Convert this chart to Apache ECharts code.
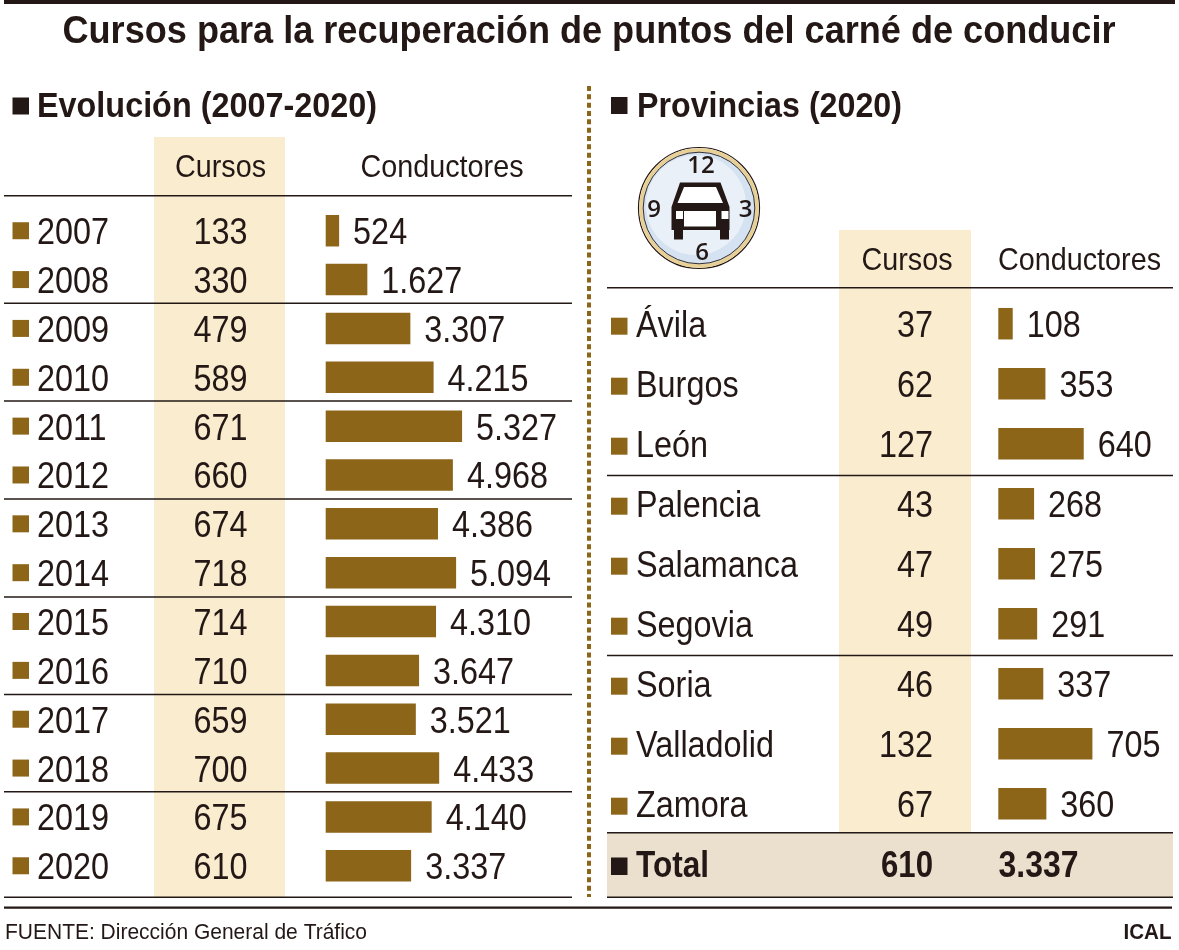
<!DOCTYPE html>
<html lang="es">
<head>
<meta charset="utf-8">
<title>Cursos para la recuperación de puntos del carné de conducir</title>
<style>html,body{margin:0;padding:0;background:#fff}#c{width:1179px;height:950px}</style>
<script src="https://cdn.jsdelivr.net/npm/echarts@6/dist/echarts.min.js"></script>
</head>
<body>
<div id="c"></div>
<script>
const titleText = 'Cursos para la recuperación de puntos del carné de conducir';
const sectionLeft = 'Evolución (2007-2020)';
const sectionRight = 'Provincias (2020)';
const headerCursos = 'Cursos';
const headerConductores = 'Conductores';
const sourceText = 'FUENTE: Dirección General de Tráfico';
const creditText = 'ICAL';
const years = ['2007','2008','2009','2010','2011','2012','2013','2014','2015','2016','2017','2018','2019','2020'];
const yearCursos = [133,330,479,589,671,660,674,718,714,710,659,700,675,610];
const yearConductores = [524,1627,3307,4215,5327,4968,4386,5094,4310,3647,3521,4433,4140,3337];
const provinces = ['Ávila','Burgos','León','Palencia','Salamanca','Segovia','Soria','Valladolid','Zamora'];
const provCursos = [37,62,127,43,47,49,46,132,67];
const provConductores = [108,353,640,268,275,291,337,705,360];
const totalLabel = 'Total';
const totalCursos = 610;
const totalConductores = 3337;

const FONT = '"Liberation Sans",Arial,sans-serif';
const INK = '#231815', BROWN = '#8c6519', BAND = '#faedcf', TOTALBG = '#ebdfcd';
const BODY = 37, SX = 0.875;
const fmt = v => String(v).replace(/\B(?=(\d{3})+$)/g, '.');

const ctx = document.createElement('canvas').getContext('2d');
const fit = (t,size,bold,width) => { ctx.font=(bold?'bold ':'')+size+'px '+FONT; return width/ctx.measureText(t).width; };

const chart = echarts.init(document.getElementById('c'), null, {renderer:'canvas'});

const G = [];
const rect = (x,y,w,h,fill,z=1) => G.push({type:'rect',z,silent:true,shape:{x,y,width:w,height:h},style:{fill}});
const hline = (x1,x2,y,w=1.6) => G.push({type:'line',z:3,silent:true,shape:{x1,y1:y,x2,y2:y},style:{stroke:INK,lineWidth:w}});
const text = (t,x,y,size,bold,width,align='left') => G.push({type:'text',z:4,silent:true,x,y,scaleX:fit(t,size,bold,width),
  style:{text:t,fontFamily:FONT,fontSize:size,fontWeight:bold?'bold':'normal',fill:INK,align,verticalAlign:'middle'}});

// frame
rect(4,0,1171,4,INK);
rect(4,906.6,1168,2.2,INK);
// bands
rect(154,137,131,760,BAND);
rect(839,230,132,603,BAND);
rect(607,833,566,64,TOTALBG);
// dotted divider
G.push({type:'line',z:1,silent:true,shape:{x1:589,y1:86,x2:589,y2:897},style:{stroke:BROWN,lineWidth:4,lineDash:[5,3.33]}});
// separators
[195.7,303.3,401,499,597,694.5,791.7,897.3].forEach(y=>hline(4,572,y));
[287.7,475.5,655.5,832.7,897.3].forEach(y=>hline(607,1173,y));
// title and section heads
text(titleText,589,33,38,true,1053,'center');
rect(12.5,97.5,16.5,17,INK);
text(sectionLeft,37,107,34.5,true,340);
rect(611,97,16.5,17,INK);
text(sectionRight,637,107,34.5,true,265);
// column heads
text(headerCursos,220.5,168,32,false,91,'center');
text(headerConductores,442,168,32,false,163,'center');
text(headerCursos,907,261,32,false,91,'center');
text(headerConductores,1079.5,261,32,false,163,'center');
// total row
rect(611,857.5,16.5,17.5,INK);
text(totalLabel,636,866.5,37,true,73);
text(String(totalCursos),933,866.5,37,true,52,'right');
text(fmt(totalConductores),998.5,866.5,37,true,80);
// footer
text(sourceText,5,933,22,false,362);
text(creditText,1171.5,933,22,true,48,'right');

// clock icon
G.push({type:'circle',z:1,silent:true,shape:{cx:699,cy:208,r:60.5},style:{fill:'#fff',stroke:INK,lineWidth:1.2}});
G.push({type:'circle',z:1,silent:true,shape:{cx:699,cy:208,r:58},style:{fill:'#d5e2f1',stroke:'#e8cf93',lineWidth:3.4}});
G.push({type:'circle',z:1,silent:true,shape:{cx:699,cy:208,r:55.8},style:{fill:'#d5e2f1',stroke:INK,lineWidth:0.9}});
G.push({type:'circle',z:1,silent:true,shape:{cx:696,cy:205,r:50},style:{fill:'#eaf0f8'}});
const carPoly = (pts,fill) => G.push({type:'polygon',z:2,silent:true,shape:{points:pts},style:{fill}});
carPoly([[680,182.5],[720.5,182.5],[729.5,207],[729.5,230],[729,230],[729,239.5],[720,239.5],[720,230],[683,230],[683,239.5],[674,239.5],[674,230],[671.5,230],[671.5,207]],INK);
carPoly([[684,187],[716,187],[723,203],[677.5,203]],'#fff');
rect(676,211,7,8,'#fff',3);
rect(721.5,211,7,8,'#fff',3);
rect(684,211,32,15.5,'#fff',3);
const CLOCK = '"Open Sans",sans-serif';
[['12',701,166],['3',745.5,210],['9',654,210],['6',702,253]].forEach(([t,x,y])=>G.push({type:'text',z:4,silent:true,x,y,style:{text:t,fontFamily:CLOCK,fontSize:24,fontWeight:600,fill:INK,align:'center',verticalAlign:'middle'}}));

const catAxis = (gridIndex,data) => ({type:'category',gridIndex,inverse:true,data,
  axisLine:{show:false},axisTick:{show:false},splitLine:{show:false},axisLabel:{show:false}});
const valAxis = (gridIndex,max) => ({type:'value',gridIndex,min:0,max,show:false,splitLine:{show:false}});

const textEl = (t,x,y,align) => ({type:'text',x,y,scaleX:SX,
  style:{text:t,fontFamily:FONT,fontSize:BODY,fill:INK,align,verticalAlign:'middle'}});

const barSeries = (i,values) => ({type:'bar',xAxisIndex:i,yAxisIndex:i,data:values,barWidth:31.5,
  itemStyle:{color:BROWN},silent:true,z:5});
// conductores: number just after the end of its bar
const valueLabels = (i,values,dy) => ({type:'custom',xAxisIndex:i,yAxisIndex:i,silent:true,z:6,clip:false,
  encode:{x:0,y:1},data:values.map((v,k)=>[v,k]),
  renderItem:(p,api)=>{const c=api.coord([api.value(0),api.value(1)]);return textEl(fmt(api.value(0)),c[0]+14,c[1]+dy,'left');}});
// cursos: fixed right-aligned column, left of the bars
const columnLabels = (i,values,dx,dy) => ({type:'custom',xAxisIndex:i,yAxisIndex:i,silent:true,z:6,clip:false,
  encode:{x:0,y:1},data:values.map((v,k)=>[v,k]),
  renderItem:(p,api)=>{const c=api.coord([0,api.value(1)]);return textEl(String(api.value(0)),c[0]+dx,c[1]+dy,'right');}});
// row names with their small square
const rowNames = (i,names,markDx,textDx,markDy,textDy) => ({type:'custom',xAxisIndex:i,yAxisIndex:i,silent:true,z:6,clip:false,
  encode:{x:0,y:1},data:names.map((n,k)=>[0,k]),
  renderItem:(p,api)=>{const c=api.coord([0,api.value(1)]);
    return {type:'group',children:[
      {type:'rect',shape:{x:c[0]+markDx,y:c[1]+markDy-8.5,width:16.5,height:17},style:{fill:BROWN}},
      textEl(names[p.dataIndex],c[0]+textDx,c[1]+textDy,'left')
    ]};}});

const LX = 325.7, RX = 998.3;
chart.setOption({
  animation:false,
  backgroundColor:'#fff',
  graphic:G,
  grid:[
    {left:LX,top:206.3,width:240,height:683.9},
    {left:RX,top:293.7,width:165,height:540}
  ],
  xAxis:[valAxis(0,240/0.0256),valAxis(1,165/0.1335)],
  yAxis:[catAxis(0,years),catAxis(1,provinces)],
  series:[
    barSeries(0,yearConductores),
    valueLabels(0,yearConductores,3.3),
    columnLabels(0,yearCursos,247.5-LX,3.3),
    rowNames(0,years,12.5-LX,37-LX,0,3.3),
    barSeries(1,provConductores),
    valueLabels(1,provConductores,3),
    columnLabels(1,provCursos,933-RX,3),
    rowNames(1,provinces,611-RX,636-RX,2.5,3.5)
  ]
});
</script>
</body>
</html>
